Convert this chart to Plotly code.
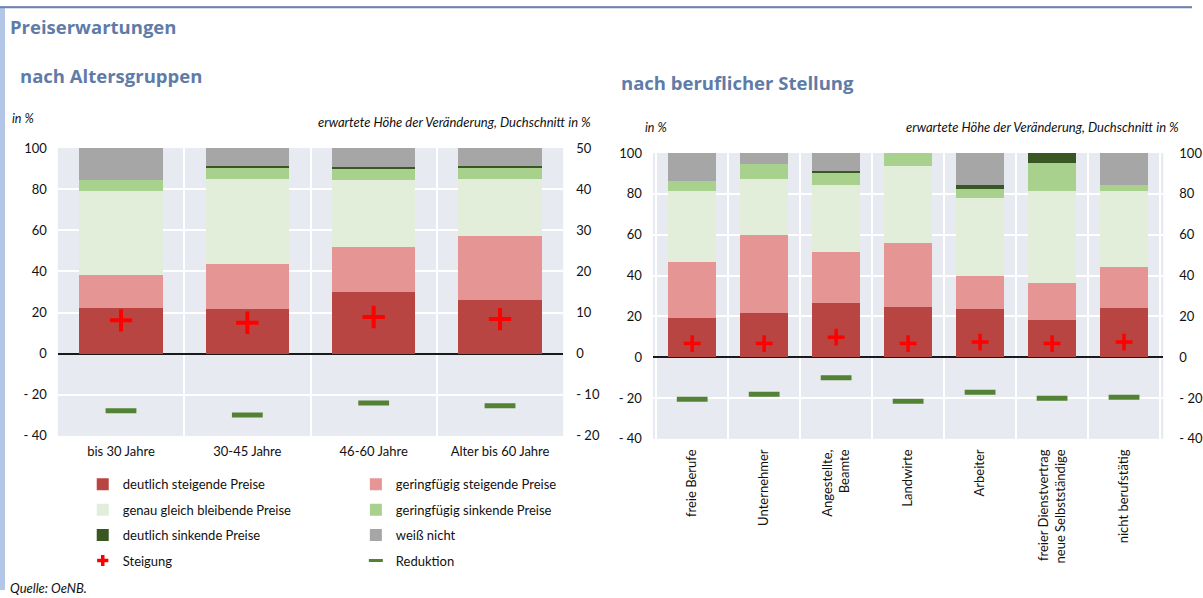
import plotly.graph_objects as go

W, H = 1203, 598

# ---------------- data ----------------
age_cats = ["bis 30 Jahre", "30-45 Jahre", "46-60 Jahre", "Alter bis 60 Jahre"]
age_deutlich_steigend = [22.0, 21.5, 29.8, 26.0]
age_gering_steigend = [16.5, 22.3, 22.2, 31.4]
age_gleich = [40.6, 41.1, 32.3, 27.5]
age_gering_sinkend = [5.3, 5.5, 5.3, 5.5]
age_deutlich_sinkend = [0.0, 1.0, 1.0, 1.0]
age_weiss_nicht = [15.6, 8.6, 9.4, 8.6]
age_steigung = [8.1, 7.5, 8.9, 8.4]
age_reduktion = [-13.9, -14.9, -12.0, -12.7]

job_cats = ["freie Berufe", "Unternehmer", "Angestellte,<br>Beamte", "Landwirte", "Arbeiter",
            "freier Dienstvertrag<br>neue Selbstständige", "nicht berufstätig"]
job_deutlich_steigend = [19.3, 21.6, 26.8, 24.8, 23.4, 18.0, 24.3]
job_gering_steigend = [27.4, 38.2, 24.7, 31.2, 16.6, 18.4, 19.8]
job_gleich = [34.7, 27.5, 33.1, 37.5, 37.8, 45.0, 37.3]
job_gering_sinkend = [4.9, 7.3, 5.8, 6.5, 4.7, 13.7, 3.2]
job_deutlich_sinkend = [0.0, 0.0, 0.9, 0.0, 2.0, 4.9, 0.0]
job_weiss_nicht = [13.7, 5.4, 8.7, 0.0, 15.5, 0.0, 15.4]
job_steigung = [6.7, 6.7, 9.8, 6.7, 7.4, 6.7, 7.4]
job_reduktion = [-20.6, -18.1, -10.1, -21.6, -17.2, -20.1, -19.6]

left_ticks = [100, 80, 60, 40, 20, 0, -20, -40]
left_ticktext = ["100", "80", "60", "40", "20", "0", "- 20", "- 40"]
left2_ticks = [50, 40, 30, 20, 10, 0, -10, -20]
left2_ticktext = ["50", "40", "30", "20", "10", "0", "- 10", "- 20"]

series_names = ["deutlich steigende Preise", "geringfügig steigende Preise",
                "genau gleich bleibende Preise", "geringfügig sinkende Preise",
                "deutlich sinkende Preise", "weiß nicht"]
series_colors = ["#B84541", "#E49594", "#E2EED9", "#A9D18E", "#385723", "#A6A6A6"]
legend_of = ["legend", "legend2", "legend", "legend2", "legend", "legend2"]

FONT = "Lato"
TITLE_FONT = "Open Sans"
TITLE_COLOR = "#5F7BA8"
BG = "#E7EAF1"

fig = go.Figure()

age_series = [age_deutlich_steigend, age_gering_steigend, age_gleich,
              age_gering_sinkend, age_deutlich_sinkend, age_weiss_nicht]
job_series = [job_deutlich_steigend, job_gering_steigend, job_gleich,
              job_gering_sinkend, job_deutlich_sinkend, job_weiss_nicht]

for i, (name, col) in enumerate(zip(series_names, series_colors)):
    fig.add_trace(go.Bar(x=age_cats, y=age_series[i], name=name, marker_color=col,
                         marker_line_width=0, width=0.66, xaxis="x", yaxis="y",
                         legend=legend_of[i], legendgroup=name, legendrank=i))
for i, (name, col) in enumerate(zip(series_names, series_colors)):
    fig.add_trace(go.Bar(x=job_cats, y=job_series[i], name=name, marker_color=col,
                         marker_line_width=0, width=0.67, xaxis="x2", yaxis="y3",
                         showlegend=False, legendgroup=name))

RED = "#FF0000"
GREEN = "#548235"
fig.add_trace(go.Scatter(x=age_cats, y=age_steigung, mode="markers", name="Steigung",
                         marker=dict(symbol="cross-thin", size=16, line=dict(color=RED, width=4)),
                         xaxis="x", yaxis="y2", showlegend=False))
fig.add_trace(go.Scatter(x=age_cats, y=age_reduktion, mode="markers", name="Reduktion",
                         marker=dict(symbol="line-ew", size=22, line=dict(color=GREEN, width=5)),
                         xaxis="x", yaxis="y2", showlegend=False))
fig.add_trace(go.Scatter(x=job_cats, y=job_steigung, mode="markers", name="Steigung",
                         marker=dict(symbol="cross-thin", size=12, line=dict(color=RED, width=3.5)),
                         xaxis="x2", yaxis="y4", showlegend=False))
fig.add_trace(go.Scatter(x=job_cats, y=job_reduktion, mode="markers", name="Reduktion",
                         marker=dict(symbol="line-ew", size=22, line=dict(color=GREEN, width=5)),
                         xaxis="x2", yaxis="y4", showlegend=False))
# legend entries (smaller symbols as in the original legend)
fig.add_trace(go.Scatter(x=[None], y=[None], mode="markers", name="Steigung",
                         marker=dict(symbol="cross-thin", size=8, line=dict(color=RED, width=3.5)),
                         xaxis="x", yaxis="y2", legend="legend", legendgroup="Steigung", legendrank=10))
fig.add_trace(go.Scatter(x=[None], y=[None], mode="markers", name="Reduktion",
                         marker=dict(symbol="line-ew", size=10, line=dict(color=GREEN, width=3)),
                         xaxis="x", yaxis="y2", legend="legend2", legendgroup="Reduktion", legendrank=10))

# the captured page is slightly compressed vertically / horizontally; map
# target screen pixels to figure pixels
YA, YB = 0.974, 7.8
XA = 0.994


def px_x(p):
    return (p / XA) / W


def px_y(p):
    d = (p - YB) / YA
    return 1 - d / H


tickfont = dict(family=FONT, size=13, color="#111111")

common_x = dict(type="category", tickson="boundaries", showgrid=True, gridcolor="white",
                gridwidth=1.5, showline=False, ticks="", tickfont=tickfont, fixedrange=True)
common_y = dict(showgrid=True, gridcolor="white", gridwidth=1.5, zeroline=True,
                zerolinecolor="#1a1a1a", zerolinewidth=1.5, showline=False, ticks="",
                tickfont=tickfont, ticklabelstandoff=10)

LD = [px_x(58), px_x(565)]
LYD = [px_y(436), px_y(148)]
RD = [px_x(655), px_x(1167)]
RYD = [px_y(439), px_y(153)]

legend_common = dict(xanchor="left", yanchor="top", orientation="v", traceorder="grouped",
                     tracegroupgap=5.5, bgcolor="rgba(0,0,0,0)", itemsizing="trace",
                     font=dict(family=FONT, size=13, color="#111111"),
                     itemclick=False, itemdoubleclick=False)

fig.update_layout(
    width=W, height=H,
    margin=dict(l=0, r=0, t=0, b=0),
    paper_bgcolor="white", plot_bgcolor=BG,
    barmode="stack",
    font=dict(family=FONT, color="#111111"),
    xaxis=dict(domain=LD, anchor="y", ticklabelstandoff=6, **common_x),
    yaxis=dict(domain=LYD, anchor="x", range=[-40, 100], tickvals=left_ticks,
               ticktext=left_ticktext, **common_y),
    yaxis2=dict(overlaying="y", anchor="x", side="right", range=[-20, 50],
                tickvals=left2_ticks, ticktext=left2_ticktext, showgrid=False,
                zeroline=False, ticks="", tickfont=tickfont, ticklabelstandoff=12),
    xaxis2=dict(domain=RD, anchor="y3", tickangle=-90, ticklabelstandoff=7, **common_x),
    yaxis3=dict(domain=RYD, anchor="x2", range=[-40, 100], tickvals=left_ticks,
                ticktext=left_ticktext, **common_y),
    yaxis4=dict(overlaying="y3", anchor="x2", side="right", range=[-40, 100],
                tickvals=left_ticks, ticktext=left_ticktext, showgrid=False,
                zeroline=False, ticks="", tickfont=tickfont, ticklabelstandoff=15),
    legend=dict(x=px_x(83), y=px_y(469.5), **legend_common),
    legend2=dict(x=px_x(357), y=px_y(469.5), **legend_common),
    showlegend=True,
)

# frame decoration
fig.add_shape(type="rect", xref="paper", yref="paper", x0=0, x1=1, y0=px_y(6), y1=1,
              fillcolor="#B4C6E7", line_width=0, layer="below")
fig.add_shape(type="line", xref="paper", yref="paper", x0=0, x1=1, y0=px_y(7), y1=px_y(7),
              line=dict(color="#6D83AE", width=2))
fig.add_shape(type="rect", xref="paper", yref="paper", x0=0, x1=px_x(5), y0=0, y1=px_y(6),
              fillcolor="#B4C6E7", line_width=0, layer="below")


def ann(text, x, y, size, xanchor="left", bold=False, italic=False, color="#111111", family=FONT):
    t = text
    if bold:
        t = "<b>" + t + "</b>"
    if italic:
        t = "<i>" + t + "</i>"
    fig.add_annotation(text=t, x=px_x(x), y=px_y(y), xref="paper", yref="paper",
                       xanchor=xanchor, yanchor="middle", showarrow=False,
                       font=dict(family=family, size=size, color=color))


ann("Preiserwartungen", 8, 26, 18.5, bold=True, color=TITLE_COLOR, family=TITLE_FONT)
ann("nach Altersgruppen", 18, 75, 18.5, bold=True, color=TITLE_COLOR, family=TITLE_FONT)
ann("nach beruflicher Stellung", 621, 82, 18.5, bold=True, color=TITLE_COLOR, family=TITLE_FONT)
ann("in %", 10, 118, 12.5, italic=True)
ann("erwartete Höhe der Veränderung, Duchschnitt in %", 595, 122, 13, xanchor="right", italic=True)
ann("in %", 645, 127, 12.5, italic=True)
ann("erwartete Höhe der Veränderung, Duchschnitt in %", 1185, 127, 13, xanchor="right", italic=True)
ann("Quelle: OeNB.", 8, 588, 13, italic=True)

fig.write_html("out.html")
